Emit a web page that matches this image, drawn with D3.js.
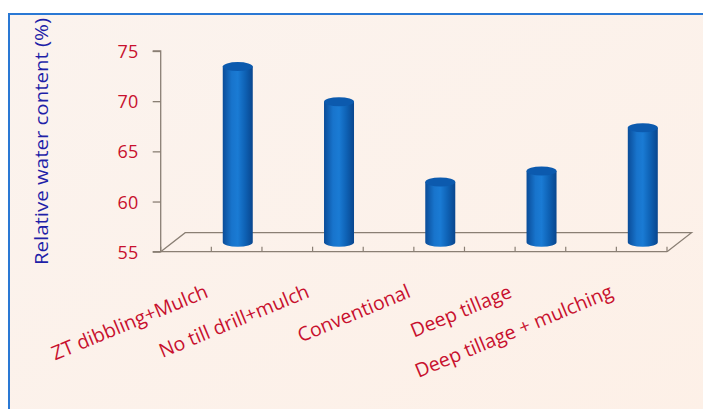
<!DOCTYPE html>
<html><head><meta charset="utf-8">
<script src="https://cdn.jsdelivr.net/npm/d3@7"></script>
<style>html,body{margin:0;padding:0;background:#fff;}svg{display:block;}</style>
</head><body>
<script>
const categories = ["ZT dibbling+Mulch","No till drill+mulch","Conventional","Deep tillage","Deep tillage + mulching"];
const values = [72.5, 69.0, 61.0, 62.1, 66.4];
const yTicks = [55, 60, 65, 70, 75];
const yTitle = "Relative water content (%)";

const W = 703, H = 409;
const svg = d3.select("body").append("svg").attr("width", W).attr("height", H);
const defs = svg.append("defs");

// background frame
const bg = defs.append("linearGradient").attr("id","bg").attr("x1",0).attr("y1",0).attr("x2",1).attr("y2",1);
bg.append("stop").attr("offset","0%").attr("stop-color","#fbf3ee");
bg.append("stop").attr("offset","100%").attr("stop-color","#fdf0e7");
svg.append("rect").attr("x",9).attr("y",14).attr("width",W).attr("height",H)
  .attr("fill","url(#bg)").attr("stroke","#2a78d4").attr("stroke-width",2);

const x0 = 160.7, x1 = 667, yTop = 51, yBot = 251.7;
const dx = 24.5, dy = -19;
const x = d3.scaleBand().domain(categories).range([x0, x1]).padding(0);
const bw = x.bandwidth();
const y = d3.scaleLinear().domain([55, 75]).range([yBot, yTop]);

const axisCol = "#8a7f74";
const font = "'Open Sans', sans-serif";
const g = svg.append("g");

// floor
g.append("path")
  .attr("d", `M${x0},${yBot} L${x0+dx},${yBot+dy} L${x1+dx},${yBot+dy} L${x1},${yBot}`)
  .attr("fill","none").attr("stroke",axisCol).attr("stroke-width",1.3);

// y axis
const yAxis = d3.axisLeft(y).tickValues(yTicks).tickSize(8).tickPadding(14.5);
const ya = g.append("g").attr("transform",`translate(${x0},0)`).call(yAxis);
ya.select(".domain").attr("stroke",axisCol).attr("stroke-width",1.3).attr("d",`M-8,${yTop}H0V${yBot}H-8`);
ya.selectAll(".tick line").attr("stroke",axisCol).attr("stroke-width",1.3);
ya.selectAll(".tick text").attr("fill","#c8102e").attr("font-family",font)
  .attr("font-size",18).attr("dy","0.36em");

// x axis line with ticks (half-band ticks)
const xa = g.append("g").attr("transform",`translate(0,${yBot})`);
xa.append("line").attr("x1",x0).attr("x2",x1).attr("stroke",axisCol).attr("stroke-width",1.3);
const tickPos = [];
categories.forEach(c => { tickPos.push(x(c)); tickPos.push(x(c) + bw/2); });
tickPos.push(x1);
xa.selectAll("line.tk").data(tickPos).join("line").attr("class","tk")
  .attr("x1",d=>d).attr("x2",d=>d).attr("y1",0).attr("y2",-5)
  .attr("stroke",axisCol).attr("stroke-width",1.2);

// category labels
xa.selectAll("text.cat").data(categories).join("text").attr("class","cat")
  .attr("transform", d => `translate(${x(d)+bw/2-2},${45}) rotate(-22.5)`)
  .attr("text-anchor","end")
  .attr("fill","#c8102e").attr("font-family",font).attr("font-size",19.5)
  .text(d => d);

// y title
svg.append("text")
  .attr("transform",`translate(48,141.5) rotate(-90)`)
  .attr("text-anchor","middle")
  .attr("fill","#1f1fa8").attr("font-family",font).attr("font-size",18.5)
  .attr("textLength",247).attr("lengthAdjust","spacingAndGlyphs")
  .text(yTitle);

// cylinder gradient
const cg = defs.append("linearGradient").attr("id","cyl").attr("x1",0).attr("x2",1).attr("y1",0).attr("y2",0);
[["0%","#0a4c98"],["30%","#1874cc"],["50%","#1a7bd4"],["75%","#0e61b4"],["100%","#09468e"]]
  .forEach(([o,c]) => cg.append("stop").attr("offset",o).attr("stop-color",c));

const rx = 15, ry = 4.5;
const bars = g.selectAll("g.bar").data(categories.map((c,i)=>({c, v: values[i]}))).join("g").attr("class","bar");
bars.each(function(d){
  const cx = x(d.c) + bw*0.64 + dx/2;
  const yb = y(55) + dy/2;
  const yt = y(d.v) + dy/2;
  const sel = d3.select(this);
  sel.append("path")
    .attr("d", `M${cx-rx},${yt} L${cx-rx},${yb} A${rx},${ry} 0 0 0 ${cx+rx},${yb} L${cx+rx},${yt} Z`)
    .attr("fill","url(#cyl)");
  sel.append("ellipse").attr("cx",cx).attr("cy",yt).attr("rx",rx).attr("ry",ry)
    .attr("fill","#0c5aae");
});
</script>
</body></html>
